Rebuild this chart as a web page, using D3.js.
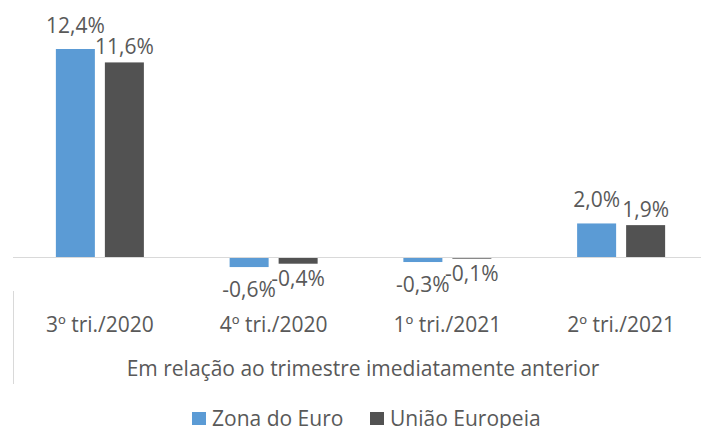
<!DOCTYPE html>
<html>
<head>
<meta charset="utf-8">
<script src="https://cdn.jsdelivr.net/npm/d3@7"></script>
<style>
  body { margin: 0; background: #fff; }
  text { font-family: "Open Sans", "Noto Sans", sans-serif; fill: #595959; }
</style>
</head>
<body>
<div id="chart"></div>
<script>
const categories = ["3º tri./2020", "4º tri./2020", "1º tri./2021", "2º tri./2021"];
const seriesNames = ["Zona do Euro", "União Europeia"];
const zonaEuro = [12.4, -0.6, -0.3, 2.0];
const uniaoEuropeia = [11.6, -0.4, -0.1, 1.9];
const axisTitle = "Em relação ao trimestre imediatamente anterior";

const colors = ["#5b9bd5", "#525252"];
const labelOffset = [24, 16];
const fontSize = "21px";

const width = 701;
const height = 428;

const svg = d3.select("#chart")
  .append("svg")
  .attr("width", width)
  .attr("height", height);

const x0 = d3.scaleBand()
  .domain(categories)
  .range([13, 708])
  .paddingInner(0.4935)
  .paddingOuter(0.24675);

const x1 = d3.scaleBand()
  .domain(seriesNames)
  .range([0, x0.bandwidth()])
  .paddingInner(10 / 49);

const y = d3.scaleLinear()
  .domain([0, d3.max(zonaEuro)])
  .range([257, 49]);

const fmt = (v) => v.toFixed(1).replace(".", ",") + "%";

const rows = [];
categories.forEach((c, i) => {
  rows.push({ cat: c, s: 0, value: zonaEuro[i] });
  rows.push({ cat: c, s: 1, value: uniaoEuropeia[i] });
});

// bars
svg.append("g")
  .selectAll("rect")
  .data(rows)
  .enter()
  .append("rect")
  .attr("x", (d) => x0(d.cat) + x1(seriesNames[d.s]))
  .attr("width", x1.bandwidth())
  .attr("y", (d) => Math.min(y(d.value), y(0)))
  .attr("height", (d) => Math.abs(y(d.value) - y(0)))
  .attr("fill", (d) => colors[d.s]);

// zero line
svg.append("line")
  .attr("x1", 13)
  .attr("x2", width)
  .attr("y1", y(0) + 0.5)
  .attr("y2", y(0) + 0.5)
  .attr("stroke", "#d9d9d9")
  .attr("stroke-width", 1);

// left line beside the labels
svg.append("line")
  .attr("x1", 13.5)
  .attr("x2", 13.5)
  .attr("y1", 291)
  .attr("y2", 384)
  .attr("stroke", "#d9d9d9")
  .attr("stroke-width", 1);

// value labels
svg.append("g")
  .selectAll("text")
  .data(rows)
  .enter()
  .append("text")
  .attr("x", (d) => x0(d.cat) + x1(seriesNames[d.s]) + x1.bandwidth() / 2)
  .attr("y", (d) => d.value >= 0
    ? y(d.value) - labelOffset[d.s]
    : y(d.value) + labelOffset[d.s] - 2)
  .attr("text-anchor", "middle")
  .attr("dominant-baseline", "central")
  .style("font-size", fontSize)
  .text((d) => fmt(d.value));

// category labels
svg.append("g")
  .selectAll("text")
  .data(categories)
  .enter()
  .append("text")
  .attr("x", (d) => x0(d) + x0.bandwidth() / 2)
  .attr("y", 324)
  .attr("text-anchor", "middle")
  .attr("dominant-baseline", "central")
  .style("font-size", fontSize)
  .text((d) => d);

svg.append("text")
  .attr("x", 363)
  .attr("y", 368)
  .attr("text-anchor", "middle")
  .attr("dominant-baseline", "central")
  .style("font-size", fontSize)
  .text(axisTitle);

// legend
const legendX = [192, 370];
const legend = svg.append("g")
  .selectAll("g")
  .data(seriesNames)
  .enter()
  .append("g")
  .attr("transform", (d, i) => `translate(${legendX[i]}, 412)`);

legend.append("rect")
  .attr("width", 14)
  .attr("height", 13)
  .attr("fill", (d, i) => colors[i]);

legend.append("text")
  .attr("x", 20)
  .attr("y", 6)
  .attr("dominant-baseline", "central")
  .style("font-size", fontSize)
  .text((d) => d);
</script>
</body>
</html>
